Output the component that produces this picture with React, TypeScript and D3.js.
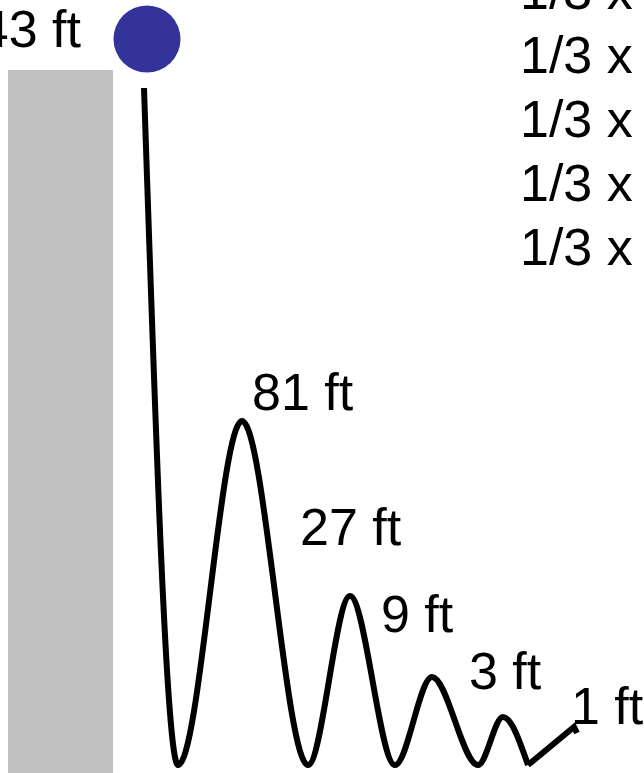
import { useEffect, useRef } from 'react'
import * as d3 from 'd3'

// bounce path: horizontal position and drawn height above the ground (diagram units, not to scale)
const bounceX = [144, 178, 242, 308, 350, 395, 432, 478, 503, 528]
const bounceH = [677, 0, 344, 0, 169, 0, 88, 0, 48, 0]
// last little roll-off after the final bounce
const tailX = [528, 574, 577]
const tailH = [0, 38, 32]

const heightLabels = ['243 ft', '81 ft', '27 ft', '9 ft', '3 ft', '1 ft']
const ratioLabels = ['1/3 x', '1/3 x', '1/3 x', '1/3 x', '1/3 x']

export default function App() {
  const svgRef = useRef<SVGSVGElement>(null)
  const width = 644
  const height = 773

  useEffect(() => {
    if (!svgRef.current) return
    const svg = d3.select(svgRef.current)
    svg.selectAll('*').remove()

    const x = d3.scaleLinear().domain([0, width]).range([0, width])
    const y = d3.scaleLinear().domain([0, 700]).range([765, 65])
    const font = 'Liberation Sans, Arial, sans-serif'

    // building
    svg.append('rect')
      .attr('x', 8)
      .attr('y', 70)
      .attr('width', 105)
      .attr('height', height - 70)
      .attr('fill', '#c0c0c0')

    // ball
    svg.append('circle')
      .attr('cx', 147)
      .attr('cy', 39)
      .attr('r', 33.5)
      .attr('fill', '#333399')

    const pts = bounceX.map((d, i) => [x(d), y(bounceH[i])] as [number, number])
    const line = d3.line().curve(d3.curveMonotoneX)
    svg.append('path')
      .attr('d', line(pts))
      .attr('fill', 'none')
      .attr('stroke', '#000')
      .attr('stroke-width', 6)

    const tail = tailX.map((d, i) => [x(d), y(tailH[i])] as [number, number])
    svg.append('path')
      .attr('d', d3.line()(tail))
      .attr('fill', 'none')
      .attr('stroke', '#000')
      .attr('stroke-width', 6)
      .attr('stroke-linejoin', 'miter')

    // height labels
    const labelPos = [
      { x: 81, y: 47, anchor: 'end' },
      { x: 252, y: 410, anchor: 'start' },
      { x: 300, y: 545, anchor: 'start' },
      { x: 381, y: 632, anchor: 'start' },
      { x: 469, y: 689, anchor: 'start' },
      { x: 571, y: 724, anchor: 'start' }
    ]
    svg.selectAll('text.h')
      .data(heightLabels)
      .enter()
      .append('text')
      .attr('class', 'h')
      .attr('x', (_, i) => labelPos[i].x)
      .attr('y', (_, i) => labelPos[i].y)
      .attr('text-anchor', (_, i) => labelPos[i].anchor)
      .style('font-family', font)
      .style('font-size', '52px')
      .style('fill', '#000')
      .text(d => d)

    // ratio column
    svg.selectAll('text.r')
      .data(ratioLabels)
      .enter()
      .append('text')
      .attr('class', 'r')
      .attr('x', 520)
      .attr('y', (_, i) => 9 + i * 64)
      .style('font-family', font)
      .style('font-size', '52px')
      .style('fill', '#000')
      .text(d => d)
  }, [])

  return (
    <svg
      ref={svgRef}
      width={width}
      height={height}
      style={{ position: 'absolute', left: 0, top: 0, background: '#fff' }}
    />
  )
}
